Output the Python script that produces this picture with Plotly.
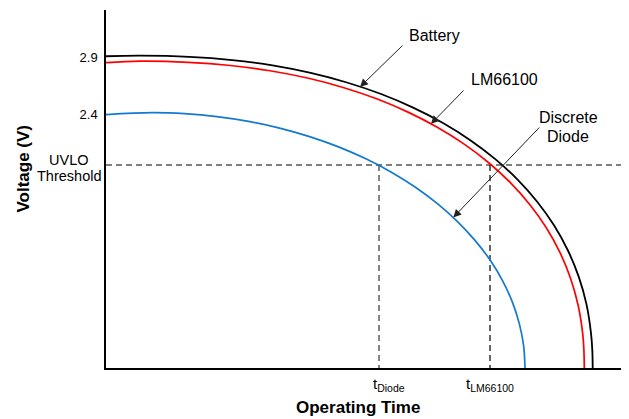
import plotly.graph_objects as go

# ---- data (time in arbitrary units, voltage in V) ----
battery_t = [0, 34, 83.3, 126.2, 166.5, 204.7, 240.9, 275.1, 307.1, 337.0, 364.3, 389.3, 411.6,
             431.2, 448.0, 461.8, 472.7, 480.5, 485.1, 486.3, 486.7]
battery_v = [2.911, 2.916, 2.906, 2.878, 2.831, 2.765, 2.681, 2.580, 2.461, 2.326, 2.175, 2.009, 1.829,
             1.635, 1.428, 1.209, 0.978, 0.734, 0.474, 0.335, 0.176]

lm_t = [0, 34, 82.3, 124.5, 164.0, 201.5, 237.1, 270.6, 302.0, 331.3, 358.2, 382.7, 404.6,
        423.9, 440.3, 453.9, 464.5, 472.2, 476.8, 477.9, 478.3]
lm_v = [2.855, 2.868, 2.858, 2.830, 2.784, 2.720, 2.637, 2.538, 2.421, 2.288, 2.140, 1.977, 1.800,
        1.609, 1.407, 1.191, 0.964, 0.724, 0.469, 0.332, 0.176]

diode_t = [0, 46, 78.5, 110.8, 142.5, 173.6, 203.6, 232.5, 259.9, 285.8, 309.8, 331.7, 351.5,
           369.0, 384.1, 396.5, 406.3, 413.3, 417.6, 419]
diode_v = [2.399, 2.416, 2.407, 2.382, 2.340, 2.281, 2.206, 2.116, 2.011, 1.892, 1.760, 1.616, 1.461,
           1.296, 1.123, 0.942, 0.756, 0.565, 0.372, 0.176]

uvlo_v = 1.957
t_diode = 273
t_lm = 384
v_floor = 0.176
v_top = 3.317
t_end = 523

y_tickvals = [2.9, 2.4]
y_ticktext = ["2.9", "2.4"]
x_marks = [t_diode, t_lm]
x_marktext = ["t<sub>Diode</sub>", "t<sub>LM66100</sub>"]
x_markshift = [9.5, 0]

FONT = "Arial, Liberation Sans, Helvetica, sans-serif"

fig = go.Figure()

# UVLO threshold dashed line
fig.add_trace(go.Scatter(x=[0, t_end], y=[uvlo_v, uvlo_v], mode="lines",
                         line=dict(color="#000000", width=1.2, dash="6px,4px"), hoverinfo="skip"))
# vertical dashed lines
fig.add_trace(go.Scatter(x=[t_diode, t_diode], y=[uvlo_v, v_floor], mode="lines",
                         line=dict(color="#333333", width=1.2, dash="6px,4px"), hoverinfo="skip"))
fig.add_trace(go.Scatter(x=[t_lm, t_lm], y=[uvlo_v, v_floor], mode="lines",
                         line=dict(color="#000000", width=1.2, dash="6px,4px"), hoverinfo="skip"))

for tt, vv, col, w in [(diode_t, diode_v, "#1479d0", 1.7),
                       (lm_t, lm_v, "#ff0000", 1.7),
                       (battery_t, battery_v, "#000000", 1.8)]:
    fig.add_trace(go.Scatter(x=tt, y=vv, mode="lines",
                             line=dict(color=col, width=w, shape="spline", smoothing=1.0, simplify=False)))

ann = []
def arrow(tx, ty, ax, ay):
    ann.append(dict(x=tx, y=ty, ax=ax, ay=ay, xref="x", yref="y", axref="x", ayref="y",
                    text="", showarrow=True, arrowhead=2, arrowsize=1.6, arrowwidth=1,
                    arrowcolor="#222222", standoff=0, startstandoff=0))

def label(x, y, text, size=16, xref="x", yref="y", xanchor="center", xshift=0):
    ann.append(dict(x=x, y=y, xref=xref, yref=yref, text=text, showarrow=False,
                    xanchor=xanchor, yanchor="middle", xshift=xshift,
                    font=dict(family=FONT, size=size, color="#000000")))

arrow(254, 2.642, 298, 3.018)
arrow(325, 2.318, 359, 2.624)
arrow(347.3, 1.497, 434.7, 2.299)

label(328, 3.093, "Battery")
label(398.7, 2.707, "LM66100")
label(462.3, 2.371, "Discrete")
label(462, 2.205, "Diode")

# UVLO tick text (paper coordinates, left of the axis)
label(-0.0698, 0.581, "UVLO", size=14.5, xref="paper", yref="paper")
label(-0.0707, 0.5363, "Threshold", size=14.5, xref="paper", yref="paper")

# x "tick" labels at the crossing times
for xv, txt, sh in zip(x_marks, x_marktext, x_markshift):
    label(xv, -0.045, txt, size=15, xref="x", yref="paper", xshift=sh)

# axis titles
label((23.5 - 106) / 523, (368 - 169) / 358, "<b>Voltage (V)</b>", size=17, xref="paper", yref="paper")
ann[-1]["textangle"] = -90
label((358.3 - 106) / 523, (368 - 407) / 358, "<b>Operating Time</b>", size=17, xref="paper", yref="paper")

fig.update_layout(
    width=621, height=411,
    margin=dict(l=98, r=0, t=2, b=51),
    paper_bgcolor="white", plot_bgcolor="white",
    showlegend=False,
    annotations=ann,
    font=dict(family=FONT, color="#000000"),
    xaxis=dict(range=[0, t_end], showgrid=False, zeroline=False, showline=True,
               linecolor="#000000", linewidth=1.5, ticks="", showticklabels=False),
    yaxis=dict(range=[v_floor, v_top], showgrid=False, zeroline=False, showline=True,
               linecolor="#000000", linewidth=1.5, ticks="",
               tickvals=y_tickvals, ticktext=y_ticktext, ticklabelstandoff=4,
               tickfont=dict(family=FONT, size=13, color="#000000")),
)

fig.write_html("out.html")
